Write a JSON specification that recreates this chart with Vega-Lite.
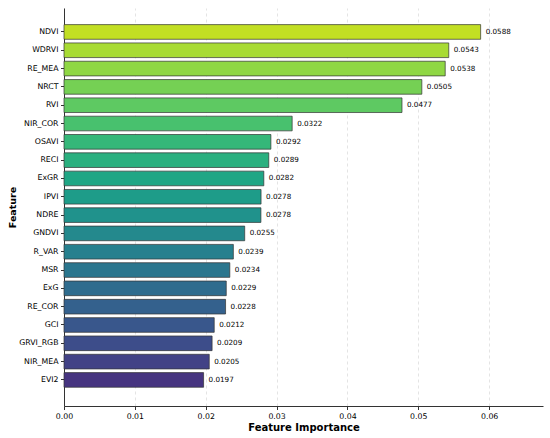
{
  "$schema": "https://vega.github.io/schema/vega-lite/v6.json",
  "width": 479,
  "height": 398,
  "autosize": {"type": "none"},
  "padding": {"left": 64, "top": 8, "right": 7, "bottom": 32},
  "background": "white",
  "data": {
    "values": [
      {"feature": "NDVI", "importance": 0.0588},
      {"feature": "WDRVI", "importance": 0.0543},
      {"feature": "RE_MEA", "importance": 0.0538},
      {"feature": "NRCT", "importance": 0.0505},
      {"feature": "RVI", "importance": 0.0477},
      {"feature": "NIR_COR", "importance": 0.0322},
      {"feature": "OSAVI", "importance": 0.0292},
      {"feature": "RECI", "importance": 0.0289},
      {"feature": "ExGR", "importance": 0.0282},
      {"feature": "IPVI", "importance": 0.02781},
      {"feature": "NDRE", "importance": 0.02779},
      {"feature": "GNDVI", "importance": 0.0255},
      {"feature": "R_VAR", "importance": 0.0239},
      {"feature": "MSR", "importance": 0.0234},
      {"feature": "ExG", "importance": 0.0229},
      {"feature": "RE_COR", "importance": 0.0228},
      {"feature": "GCI", "importance": 0.0212},
      {"feature": "GRVI_RGB", "importance": 0.0209},
      {"feature": "NIR_MEA", "importance": 0.0205},
      {"feature": "EVI2", "importance": 0.0197}
    ]
  },
  "encoding": {
    "y": {
      "field": "feature",
      "type": "nominal",
      "sort": {"field": "importance", "order": "descending"},
      "title": "Feature",
      "scale": {"paddingInner": 0.2, "paddingOuter": 0.965, "align": 0.47},
      "axis": {
        "labelFont": "DejaVu Sans",
        "labelFontSize": 7.8,
        "labelColor": "#000",
        "labelPadding": 2.5,
        "tickSize": 3.5,
        "tickColor": "#333",
        "domainColor": "#333",
        "titleFont": "DejaVu Sans",
        "titleFontSize": 9.5,
        "titleFontWeight": "bold",
        "titleColor": "black",
        "titleX": -47,
        "grid": false
      }
    },
    "x": {
      "field": "importance",
      "type": "quantitative",
      "title": "Feature Importance",
      "scale": {"domain": [0, 0.0676], "nice": false},
      "axis": {
        "values": [0, 0.01, 0.02, 0.03, 0.04, 0.05, 0.06],
        "format": ".2f",
        "labelFlush": false,
        "labelFont": "DejaVu Sans",
        "labelFontSize": 7.8,
        "labelColor": "#000",
        "labelPadding": 2.5,
        "tickSize": 3.5,
        "tickColor": "#333",
        "domainColor": "#333",
        "titleFont": "DejaVu Sans",
        "titleFontSize": 10,
        "titleFontWeight": "bold",
        "titleColor": "black",
        "titlePadding": 3,
        "grid": true,
        "gridColor": "#d8d8d8",
        "gridDash": [3, 3],
        "gridWidth": 0.7
      }
    }
  },
  "layer": [
    {
      "mark": {"type": "bar", "stroke": "#333", "strokeOpacity": 0.7, "strokeWidth": 1},
      "encoding": {
        "color": {
          "field": "feature",
          "type": "ordinal",
          "sort": {"field": "importance", "order": "ascending"},
          "scale": {
            "range": ["#463480", "#424286", "#3d4d8a", "#39578c", "#34618d", "#2f6c8e", "#2b768e", "#27808e", "#24898d", "#20928c", "#1e9c89", "#20a685", "#2ab07f", "#35b779", "#48c16e", "#5ec962", "#75d054", "#8fd744", "#a8db34", "#c2df23"]
          },
          "legend": null
        }
      }
    },
    {
      "mark": {"type": "text", "align": "left", "baseline": "middle", "dx": 5, "font": "DejaVu Sans", "fontSize": 7.2, "color": "#000"},
      "encoding": {
        "text": {"field": "importance", "type": "quantitative", "format": ".4f"}
      }
    }
  ],
  "config": {
    "view": {"stroke": null}
  }
}
